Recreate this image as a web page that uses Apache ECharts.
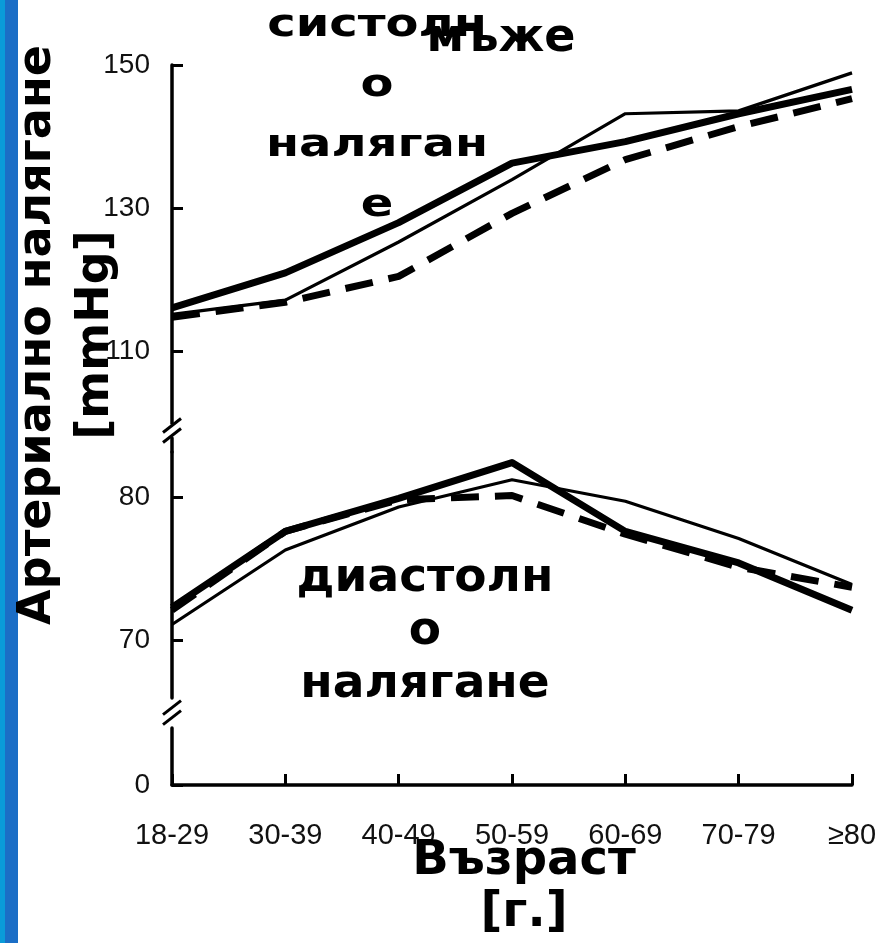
<!DOCTYPE html>
<html><head><meta charset="utf-8">
<script src="https://cdn.jsdelivr.net/npm/echarts@6/dist/echarts.min.js"></script>
<style>html,body{margin:0;padding:0;background:#fff}#c{width:885px;height:943px}</style>
</head><body><div id="c"></div>
<script>
// ---- data ----
const categories = ['18-29', '30-39', '40-49', '50-59', '60-69', '70-79', '≥80'];
const sysThick  = [116.1, 121.0, 128.0, 136.3, 139.3, 143.2, 146.6];
const sysThin   = [115.2, 117.2, 125.3, 134.0, 143.2, 143.6, 148.9];
const sysDashed = [114.8, 116.9, 120.5, 129.3, 136.8, 141.4, 145.3];
const diaThick  = [72.3, 77.6, 79.9, 82.4, 77.6, 75.4, 72.1];
const diaThin   = [71.1, 76.3, 79.3, 81.2, 79.7, 77.1, 73.9];
const diaDashed = [72.1, 77.6, 79.8, 80.1, 77.4, 75.1, 73.7];
const sysTicks = [110, 130, 150];
const diaTicks = [0, 70, 80];
const sysBreak = [96, 100];
const diaBreak = [4, 66];

const chart = echarts.init(document.getElementById('c'), null, {renderer: 'canvas'});
const black = '#000';
const labelFont = {fontFamily: 'Liberation Sans', fontSize: 28, color: '#111'};
const boldFont = 'DejaVu Sans';

function yAxisBase(grid, min, max, ticks, brk, gap) {
  return {
    type: 'value', gridIndex: grid, min: min, max: max,
    breaks: [{start: brk[0], end: brk[1], gap: gap}],
    breakArea: {show: false},
    splitLine: {show: false},
    axisLine: {show: true, lineStyle: {color: black, width: 3.5}},
    axisTick: {show: true, inside: true, length: 11, lineStyle: {color: black, width: 3}, customValues: ticks},
    axisLabel: Object.assign({margin: 22, customValues: ticks}, labelFont)
  };
}

function lineSeries(data, xi, yi, width, dashed) {
  return {
    type: 'line', data: data, xAxisIndex: xi, yAxisIndex: yi,
    symbol: 'none', z: 2, silent: true,
    lineStyle: {color: black, width: width, type: dashed ? [28, 16] : 'solid', cap: 'butt', join: 'round'}
  };
}

chart.setOption({
  animation: false,
  backgroundColor: '#fff',
  grid: [
    {left: 172, right: 33, top: 65, height: 387},
    {left: 172, right: 33, top: 452, height: 333}
  ],
  xAxis: [
    {type: 'category', gridIndex: 0, data: categories, boundaryGap: false, show: false},
    {type: 'category', gridIndex: 1, data: categories, boundaryGap: false,
     axisLine: {show: true, lineStyle: {color: black, width: 3.5}},
     axisTick: {show: true, inside: true, length: 11, lineStyle: {color: black, width: 3}},
     axisLabel: Object.assign({}, labelFont, {margin: 36, interval: 0, fontSize: 29}),
     splitLine: {show: false}}
  ],
  yAxis: [
    yAxisBase(0, 94, 150, sysTicks, sysBreak, 2),
    yAxisBase(1, 0, 83.14, diaTicks, diaBreak, 2.1)
  ],
  series: [
    lineSeries(sysDashed, 0, 0, 7, true),
    lineSeries(sysThin, 0, 0, 3.2, false),
    lineSeries(sysThick, 0, 0, 7, false),
    lineSeries(diaDashed, 1, 1, 7, true),
    lineSeries(diaThin, 1, 1, 3.2, false),
    lineSeries(diaThick, 1, 1, 7, false)
  ]
});

// break marks computed from the axis scales
function breakMark(yi, brk) {
  const p1 = chart.convertToPixel({yAxisIndex: yi}, brk[0]);
  const p2 = chart.convertToPixel({yAxisIndex: yi}, brk[1]);
  const xAx = chart.convertToPixel({xAxisIndex: 1}, 0);
  const cy = (p1 + p2) / 2;
  return [
    {type: 'rect', z: 20, shape: {x: xAx - 4, y: cy - 6, width: 8, height: 12}, style: {fill: '#fff'}},
    {type: 'line', z: 21, shape: {x1: xAx - 9, y1: cy + 2, x2: xAx + 9, y2: cy - 12}, style: {stroke: black, lineWidth: 3}},
    {type: 'line', z: 21, shape: {x1: xAx - 9, y1: cy + 12, x2: xAx + 9, y2: cy - 2}, style: {stroke: black, lineWidth: 3}}
  ];
}

chart.setOption({
  graphic: [
    {type: 'rect', z: 30, shape: {x: 0, y: 0, width: 5, height: 943}, style: {fill: '#0a9bd9'}},
    {type: 'rect', z: 30, shape: {x: 5, y: 0, width: 13, height: 943}, style: {fill: '#1b6ec6'}},
    {type: 'text', z: 30, x: 67, y: 335, rotation: Math.PI / 2,
     style: {text: 'Артериално налягане\n[mmHg]', fontFamily: boldFont, fontWeight: 'bold', fontSize: 46,
             lineHeight: 58, align: 'center', verticalAlign: 'middle', fill: '#000'}},
    {type: 'text', z: 30, x: 524, y: 888,
     style: {text: 'Възраст\n[г.]', fontFamily: boldFont, fontWeight: 'bold', fontSize: 48,
             lineHeight: 52, align: 'center', verticalAlign: 'middle', fill: '#000'}},
    {type: 'rect', z: 10, shape: {x: 263, y: 128, width: 257, height: 30}, style: {fill: '#fff'}},
    {type: 'text', z: 30, x: 377, y: 116, scaleY: 0.815,
     style: {text: 'систолн\nо\nналяган\nе', fontFamily: boldFont, fontWeight: 'bold', fontSize: 48,
             lineHeight: 73.6, align: 'center', verticalAlign: 'middle', fill: '#000'}},
    {type: 'text', z: 31, x: 501, y: 39,
     style: {text: 'мъже', fontFamily: boldFont, fontWeight: 'bold', fontSize: 46,
             align: 'center', verticalAlign: 'middle', fill: '#000'}},
    {type: 'text', z: 30, x: 425, y: 632,
     style: {text: 'диастолн\nо\nналягане', fontFamily: boldFont, fontWeight: 'bold', fontSize: 47,
             lineHeight: 53, align: 'center', verticalAlign: 'middle', fill: '#000'}}
  ].concat(breakMark(0, sysBreak), breakMark(1, diaBreak))
});
</script>
</body></html>
